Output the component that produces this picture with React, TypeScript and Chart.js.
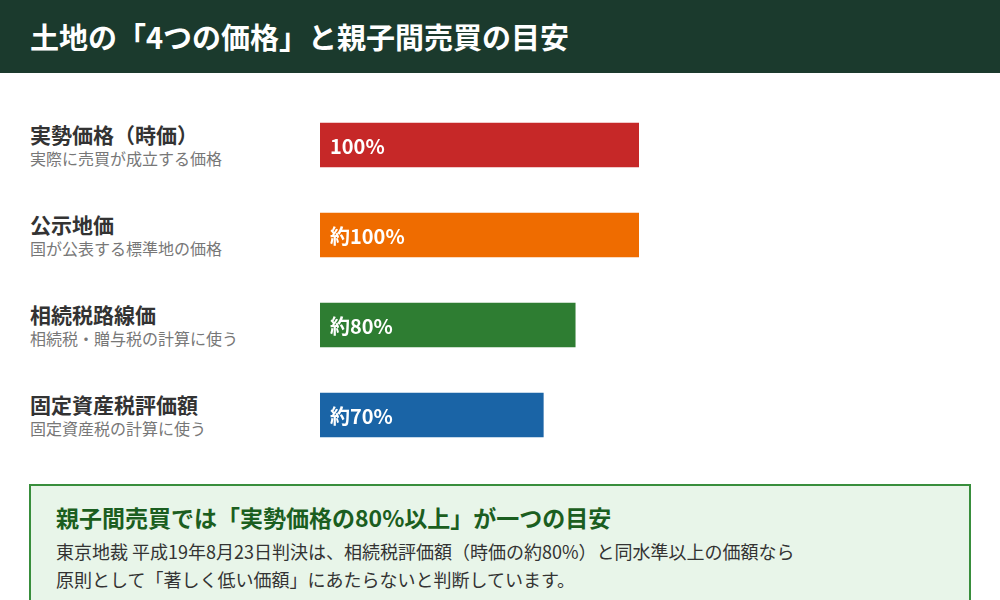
import React, { useEffect, useRef } from "react";
import { Chart, registerables } from "chart.js";

Chart.register(...registerables);

const categories = ["実勢価格（時価）", "公示地価", "相続税路線価", "固定資産税評価額"];
const subLabels = ["実際に売買が成立する価格", "国が公表する標準地の価格", "相続税・贈与税の計算に使う", "固定資産税の計算に使う"];
const values = [100, 100, 80, 70];
const valueLabels = ["100%", "約100%", "約80%", "約70%"];
const barColors = ["#c62828", "#ef6c00", "#2e7d32", "#1a64a6"];

const FONT = '"Noto Sans CJK JP", "Noto Sans", sans-serif';

const valueLabelPlugin = {
  id: "valueLabels",
  afterDatasetsDraw(chart: any) {
    const ctx = chart.ctx;
    const meta = chart.getDatasetMeta(0);
    ctx.save();
    ctx.fillStyle = "#ffffff";
    ctx.font = `bold 20px ${FONT}`;
    ctx.textBaseline = "middle";
    ctx.textAlign = "left";
    meta.data.forEach((bar: any, i: number) => {
      const left = Math.min(bar.base, bar.x);
      ctx.fillText(valueLabels[i], left + 10, bar.y + 1);
    });
    ctx.restore();
  },
};

export default function App() {
  const ref = useRef<HTMLCanvasElement>(null);

  useEffect(() => {
    if (!ref.current) return;
    const chart = new Chart(ref.current, {
      type: "bar",
      data: {
        labels: categories,
        datasets: [
          {
            data: values,
            backgroundColor: barColors,
            borderWidth: 0,
            barThickness: 44,
          },
        ],
      },
      options: {
        indexAxis: "y",
        animation: false,
        responsive: false,
        maintainAspectRatio: false,
        layout: { padding: { left: 320, right: 361, top: 0, bottom: 0 } },
        plugins: { legend: { display: false }, tooltip: { enabled: false } },
        scales: {
          x: { min: 0, max: 100, display: false },
          y: { display: false },
        },
      },
      plugins: [valueLabelPlugin],
    });
    return () => chart.destroy();
  }, []);

  return (
    <div
      style={{
        position: "absolute",
        left: 0,
        top: 0,
        width: 1000,
        height: 600,
        overflow: "hidden",
        background: "#ffffff",
        fontFamily: FONT,
      }}
    >
      <div
        style={{
          position: "absolute",
          left: 0,
          top: 0,
          width: 1000,
          height: 73,
          background: "#1b3a2d",
          color: "#ffffff",
          fontWeight: 700,
          fontSize: 29,
          lineHeight: "73px",
          paddingLeft: 30,
          boxSizing: "border-box",
        }}
      >
        土地の「4つの価格」と親子間売買の目安
      </div>

      {categories.map((c, i) => (
        <div
          key={c}
          style={{ position: "absolute", left: 30, top: 121 + i * 90, width: 285 }}
        >
          <div style={{ fontSize: 21, fontWeight: 700, color: "#333333", lineHeight: "26px" }}>{c}</div>
          <div style={{ fontSize: 16, color: "#777777", lineHeight: "22px" }}>{subLabels[i]}</div>
        </div>
      ))}

      <canvas
        ref={ref}
        width={1000}
        height={360}
        style={{ position: "absolute", left: 0, top: 100, width: 1000, height: 360 }}
      />

      <div
        style={{
          position: "absolute",
          left: 29,
          top: 484,
          width: 942,
          height: 140,
          boxSizing: "border-box",
          border: "2px solid #388e3c",
          background: "#e8f5e9",
          padding: "14px 0 0 25px",
        }}
      >
        <div style={{ fontSize: 23, fontWeight: 700, color: "#1b5e20", lineHeight: "34px" }}>
          親子間売買では「実勢価格の80%以上」が一つの目安
        </div>
        <div style={{ fontSize: 18, color: "#333333", lineHeight: "28px", marginTop: 3 }}>
          東京地裁 平成19年8月23日判決は、相続税評価額（時価の約80%）と同水準以上の価額なら
          <br />
          原則として「著しく低い価額」にあたらないと判断しています。
        </div>
      </div>
    </div>
  );
}
